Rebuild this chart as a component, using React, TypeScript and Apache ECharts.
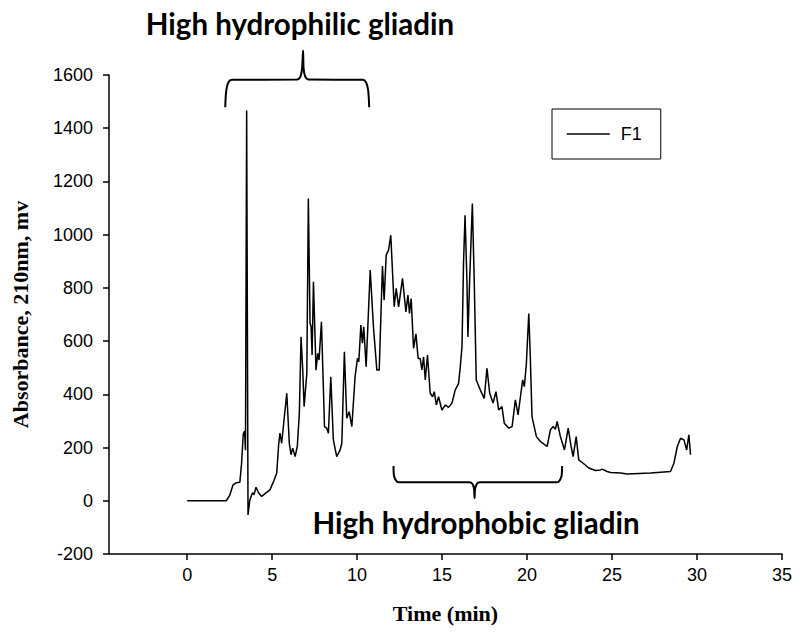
import React, { useEffect, useRef } from "react";
import * as echarts from "echarts";

// Chromatogram F1: retention time (min) and absorbance at 210 nm (mV)
const timeMin = [
  0, 2.3, 2.5, 2.7, 2.9, 3.1, 3.2, 3.3, 3.38, 3.43, 3.5, 3.58, 3.68, 3.78, 3.85, 3.93, 4.05, 4.19, 4.38, 4.6,
  4.87, 5.1, 5.27, 5.38, 5.46, 5.56, 5.66, 5.86, 6.01, 6.11, 6.21, 6.35, 6.48, 6.6, 6.7, 6.8, 6.88, 7.04, 7.13, 7.23,
  7.29, 7.35, 7.43, 7.58, 7.68, 7.76, 7.9, 8.08, 8.21, 8.31, 8.45, 8.6, 8.8, 9.0, 9.1, 9.25, 9.39, 9.53, 9.69, 9.88,
  10.02, 10.1, 10.22, 10.31, 10.39, 10.53, 10.77, 10.96, 11.16, 11.3, 11.49, 11.59, 11.71, 11.85, 11.98, 12.18, 12.3, 12.44, 12.67, 12.87,
  12.99, 13.08, 13.18, 13.32, 13.46, 13.59, 13.71, 13.81, 13.91, 14.01, 14.14, 14.3, 14.44, 14.54, 14.66, 14.79, 14.99, 15.19, 15.38, 15.58,
  15.77, 15.97, 16.07, 16.17, 16.26, 16.35, 16.46, 16.52, 16.62, 16.78, 16.89, 17.01, 17.25, 17.48, 17.64, 17.8, 18.0, 18.17, 18.33, 18.52,
  18.66, 18.92, 19.12, 19.31, 19.47, 19.61, 19.74, 19.84, 19.96, 20.1, 20.19, 20.29, 20.55, 20.78, 21.18, 21.37, 21.53, 21.67, 21.77, 21.96,
  22.2, 22.42, 22.59, 22.71, 22.89, 23.04, 23.3, 23.63, 24.02, 24.31, 24.42, 24.71, 24.91, 25.5, 25.89, 27.27, 28.44, 28.64, 28.84, 29.03,
  29.23, 29.39, 29.52, 29.62,
];
const absorbanceMv = [
  0, 0, 20, 60, 68, 70, 140, 250, 262, 190, 1467, -53, 0, 20, 31, 22, 51, 31, 16, 28,
  41, 75, 104, 210, 254, 216, 279, 404, 216, 173, 198, 166, 204, 329, 616, 491, 354, 479, 1136, 667,
  654, 548, 823, 491, 554, 529, 673, 279, 273, 254, 466, 229, 166, 191, 216, 560, 310, 335, 279, 466,
  535, 523, 660, 592, 654, 504, 867, 654, 491, 491, 882, 754, 923, 942, 998, 729, 798, 729, 836, 710,
  773, 704, 760, 573, 627, 535, 535, 492, 541, 454, 548, 404, 391, 410, 360, 391, 341, 360, 351, 367,
  416, 441, 504, 579, 892, 1073, 829, 616, 829, 1117, 829, 454, 416, 385, 498, 404, 367, 410, 341, 354,
  291, 273, 279, 379, 323, 391, 454, 429, 517, 704, 541, 316, 241, 223, 204, 266, 279, 269, 298, 241,
  191, 273, 204, 166, 241, 154, 141, 123, 114, 116, 119, 110, 106, 104, 101, 104, 110, 141, 204, 235,
  229, 191, 248, 173,
];

// Curly-brace annotations (in data units)
const braceTopT = [2.24, 2.3, 2.42, 2.63, 6.46, 6.67, 6.76, 6.82, 6.85, 6.94, 7.15, 10.32, 10.53, 10.65, 10.71];
const braceTopV = [1479, 1542, 1572, 1582, 1583, 1595, 1625, 1692, 1625, 1595, 1583, 1582, 1572, 1542, 1479];
const braceBottomT = [12.14, 12.18, 12.34, 12.47, 16.6, 16.78, 16.88, 16.91, 16.94, 17.05, 17.22, 21.71, 21.86, 22.02, 22.06];
const braceBottomV = [131, 91, 72, 70, 70, 64, 45, 10, 45, 64, 70, 70, 72, 91, 131];

const xTickValues = [0, 5, 10, 15, 20, 25, 30, 35];
const seriesName = "F1";
const topNote = "High hydrophilic gliadin";
const bottomNote = "High hydrophobic gliadin";
const xTitle = "Time (min)";
const yTitle = "Absorbance, 210nm, mv";

const zip = (a: number[], b: number[]) => a.map((v, i) => [v, b[i]]);

export default function App() {
  const ref = useRef<HTMLDivElement>(null);
  useEffect(() => {
    document.body.style.margin = "0";
    const chart = echarts.init(ref.current!, null, { renderer: "svg" });
    const axisFont = { color: "#000", fontSize: 18, fontFamily: "Liberation Sans, Arial, sans-serif" };
    const titleFont = { color: "#000", fontSize: 22, fontWeight: "bold", fontFamily: "Liberation Serif, Times New Roman, serif" };
    const noteStyle = { fill: "#000", fontSize: 29.5, fontWeight: "bold", fontFamily: "Lato, sans-serif", align: "center", verticalAlign: "middle" };
    chart.setOption({
      animation: false,
      backgroundColor: "#fff",
      grid: { left: 109, right: 29, top: 75, bottom: 84, containLabel: false },
      legend: {
        data: [seriesName],
        left: 552,
        top: 109,
        orient: "vertical",
        borderColor: "#000",
        borderWidth: 1,
        borderRadius: 0,
        padding: [16, 19, 16, 14],
        itemWidth: 43,
        itemHeight: 18,
        itemStyle: { opacity: 0 },
        lineStyle: { color: "#000", width: 1.5 },
        textStyle: { ...axisFont, padding: [0, 0, 0, 6] },
      },
      xAxis: {
        type: "value",
        min: -4.6,
        max: 35,
        splitLine: { show: false },
        axisLine: { show: true, onZero: false, lineStyle: { color: "#000", width: 1.5 } },
        axisTick: { show: true, inside: false, length: 6, customValues: xTickValues, lineStyle: { color: "#000", width: 1.5 } },
        axisLabel: { ...axisFont, margin: 12, customValues: xTickValues, formatter: (v: number) => String(v) },
        name: xTitle,
        nameLocation: "middle",
        nameGap: 48,
        nameTextStyle: titleFont,
      },
      yAxis: {
        type: "value",
        min: -200,
        max: 1600,
        interval: 200,
        splitLine: { show: false },
        axisLine: { show: true, onZero: false, lineStyle: { color: "#000", width: 1.5 } },
        axisTick: { show: true, inside: false, length: 6, lineStyle: { color: "#000", width: 1.5 } },
        axisLabel: { ...axisFont, margin: 16, formatter: (v: number) => String(v) },
        name: yTitle,
        nameLocation: "middle",
        nameGap: 78,
        nameTextStyle: titleFont,
      },
      series: [
        {
          name: seriesName,
          type: "line",
          data: zip(timeMin, absorbanceMv),
          symbol: "none",
          showSymbol: false,
          lineStyle: { color: "#000", width: 1.5 },
          itemStyle: { color: "#000" },
        },
        {
          name: "braceTop",
          type: "line",
          data: zip(braceTopT, braceTopV),
          symbol: "none",
          clip: false,
          smooth: 0.3,
          silent: true,
          lineStyle: { color: "#000", width: 2 },
        },
        {
          name: "braceBottom",
          type: "line",
          data: zip(braceBottomT, braceBottomV),
          symbol: "none",
          clip: false,
          smooth: 0.3,
          silent: true,
          lineStyle: { color: "#000", width: 2 },
        },
      ],
      graphic: [
        { type: "text", x: 300, y: 23, style: { text: topNote, ...noteStyle } },
        { type: "text", x: 476, y: 522, style: { text: bottomNote, ...noteStyle } },
      ],
    });
    return () => chart.dispose();
  }, []);
  return <div ref={ref} style={{ width: 811, height: 638 }} />;
}
